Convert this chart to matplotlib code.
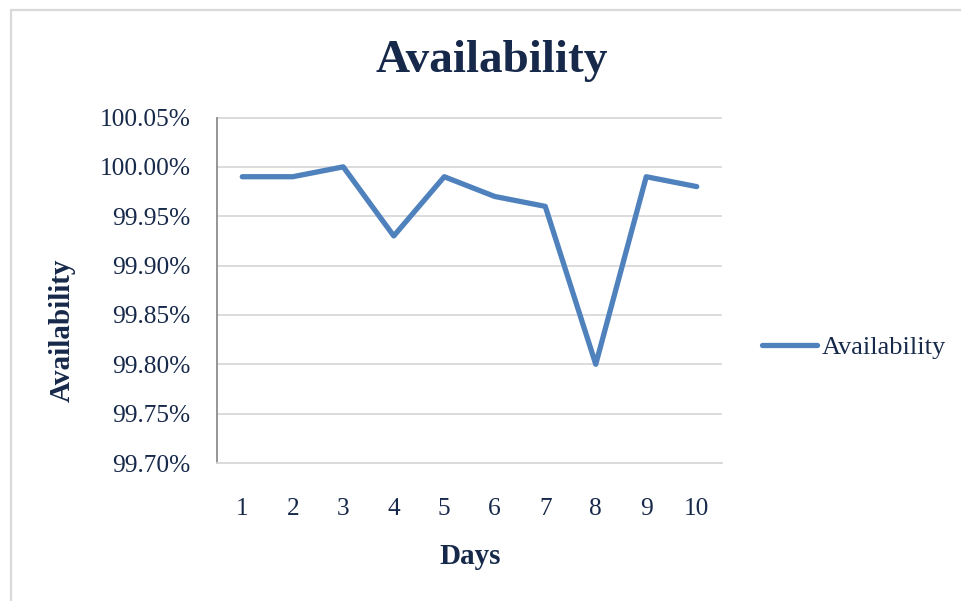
import matplotlib
matplotlib.use("Agg")
import matplotlib.pyplot as plt
from matplotlib.patches import Rectangle
from matplotlib.ticker import FuncFormatter

days = [1, 2, 3, 4, 5, 6, 7, 8, 9, 10]
availability = [99.99, 99.99, 100.00, 99.93, 99.99, 99.97, 99.96, 99.80, 99.99, 99.98]
y_ticks = [99.70, 99.75, 99.80, 99.85, 99.90, 99.95, 100.00, 100.05]

TEXT = "#17294a"
LINE = "#4f81bd"
GRID = "#d9d9d9"

plt.rcParams['font.family'] = ['Liberation Serif', 'DejaVu Serif']

W, H = 962, 601
fig = plt.figure(figsize=(W / 100, H / 100), dpi=100)
fig.patch.set_facecolor("white")

# outer chart border (cropped at right and bottom)
fig.patches.append(Rectangle((11 / W, -0.05), 1.1, (H - 10) / H + 0.05,
                             transform=fig.transFigure, fill=False,
                             edgecolor="#d9d9d9", linewidth=1.6))

left, right, top, bottom = 217, 722, 117.5, 463
ax = fig.add_axes([left / W, 1 - bottom / H, (right - left) / W, (bottom - top) / H])

ax.plot(days, availability, color=LINE, linewidth=3.8, solid_capstyle="round",
        solid_joinstyle="round", label="Availability", zorder=3)

ax.set_xlim(0.5, 10.5)
ax.set_ylim(99.70, 100.05)
ax.set_yticks(y_ticks)
ax.set_xticks(days)
ax.yaxis.set_major_formatter(FuncFormatter(lambda v, p: f"{v:.2f}%"))
ax.grid(axis="y", color=GRID, linewidth=1.3)
ax.set_axisbelow(True)
for s in ["top", "right"]:
    ax.spines[s].set_visible(False)
ax.spines["left"].set_color("#8c8c8c")
ax.spines["left"].set_linewidth(1.3)
ax.spines["bottom"].set_color(GRID)
ax.spines["bottom"].set_linewidth(1.3)
ax.tick_params(axis="both", length=0, labelsize=18.3, labelcolor=TEXT)
ax.tick_params(axis="y", pad=19)
ax.tick_params(axis="x", pad=25)

fig.text(492 / W, 1 - 61 / H, "Availability", ha="center", va="center",
         fontsize=34, fontweight="bold", color=TEXT)
fig.text(470 / W, 1 - 557 / H, "Days", ha="center", va="center",
         fontsize=21, fontweight="bold", color=TEXT)
fig.text(62 / W, 1 - 330 / H, "Availability", ha="center", va="center",
         rotation=90, fontsize=21, fontweight="bold", color=TEXT)

leg = ax.legend(loc="center left", bbox_to_anchor=(762 / W, 1 - 347 / H),
                bbox_transform=fig.transFigure, frameon=False, fontsize=19,
                handlelength=2.1, handletextpad=0.15, borderpad=0, borderaxespad=0)
for t in leg.get_texts():
    t.set_color(TEXT)

fig.savefig("out.png", dpi=100)
